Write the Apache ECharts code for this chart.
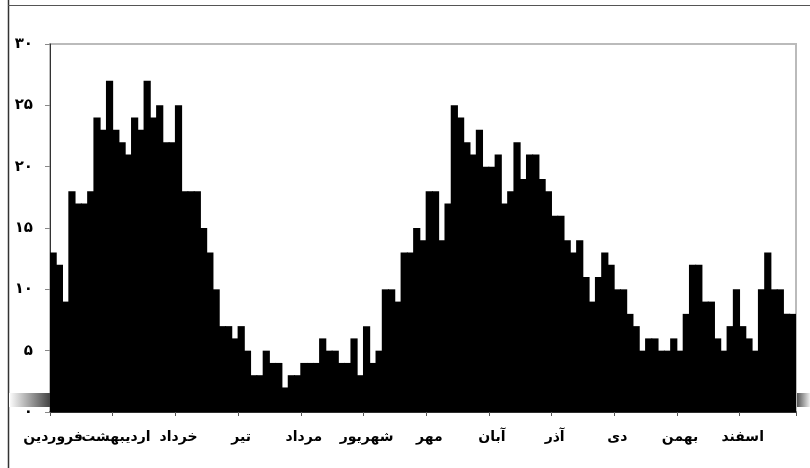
<!DOCTYPE html>
<html>
<head>
<meta charset="utf-8">
<script src="https://cdn.jsdelivr.net/npm/echarts@6/dist/echarts.min.js"></script>
<style>html,body{margin:0;padding:0;background:#fff}#c{width:810px;height:468px}</style>
</head>
<body>
<div id="c"></div>
<script>
// Month names (Persian calendar), one label every 10 bars
var months = ['فروردین','اردیبهشت','خرداد','تیر','مرداد','شهریور','مهر','آبان','آذر','دی','بهمن','اسفند'];
// Bar values
var values = [
  13,12,9,18,17,17,18,24,23,27,
  23,22,21,24,23,27,24,25,22,22,
  25,18,18,18,15,13,10,7,7,6,
  7,5,3,3,5,4,4,2,3,3,
  4,4,4,6,5,5,4,4,6,3,
  7,4,5,10,10,9,13,13,15,14,
  18,18,14,17,25,24,22,21,23,20,
  20,21,17,18,22,19,21,21,19,18,
  16,16,14,13,14,11,9,11,13,12,
  10,10,8,7,5,6,6,5,5,6,
  5,8,12,12,9,9,6,5,7,10,
  7,6,5,10,13,10,10,8,8
];
// Y tick labels in Persian digits
var yTickValues = [0,5,10,15,20,25,30];
var yTickLabels = ['۰','۵','۱۰','۱۵','۲۰','۲۵','۳۰'];

var categories = values.map(function(v,i){ return (i % 10 === 0) ? months[i/10] : ''; });

var chart = echarts.init(document.getElementById('c'), null, {renderer:'canvas'});
chart.setOption({
  animation: false,
  backgroundColor: '#fff',
  grid: {left: 50, right: 14, top: 44, bottom: 56, show: true, borderColor: '#bbb', borderWidth: 2},
  xAxis: {
    type: 'category',
    data: categories,
    boundaryGap: true,
    axisLine: {lineStyle: {color: '#000', width: 1.5}},
    axisTick: {show: true, interval: function(i){ return i % 10 === 0; }, length: 4, lineStyle: {color: '#555'}},
    axisLabel: {
      interval: 0, margin: 18, color: '#000',
      fontFamily: 'DejaVu Sans', fontWeight: 'bold', fontSize: 14
    }
  },
  yAxis: {
    type: 'value', min: 0, max: 30, interval: 5,
    splitLine: {show: false},
    axisLine: {show: true, lineStyle: {color: '#333', width: 1}},
    axisTick: {show: true, length: 5, lineStyle: {color: '#888'}},
    axisLabel: {
      margin: 17, color: '#000', fontFamily: 'DejaVu Sans', fontWeight: 'bold', fontSize: 15,
      formatter: function(v){ var k = yTickValues.indexOf(v); return k >= 0 ? yTickLabels[k] : ''; }
    }
  },
  series: [{
    type: 'bar',
    data: values,
    barWidth: 7.2,
    itemStyle: {color: '#000'}
  }],
  graphic: [
    {type: 'line', shape: {x1: 8.5, y1: 0, x2: 8.5, y2: 468}, style: {stroke: '#333', lineWidth: 1.5}},
    {type: 'line', shape: {x1: 8, y1: 5.5, x2: 810, y2: 5.5}, style: {stroke: '#555', lineWidth: 1}},
    {type: 'rect', shape: {x: 9, y: 393, width: 41, height: 14}, style: {fill: {type: 'linear', x: 0, y: 0, x2: 1, y2: 0, colorStops: [{offset: 0, color: '#ffffff'}, {offset: 1, color: '#444'}]}}},
    {type: 'rect', shape: {x: 797, y: 393, width: 13, height: 14}, style: {fill: {type: 'linear', x: 0, y: 0, x2: 1, y2: 0, colorStops: [{offset: 0, color: '#555'}, {offset: 1, color: '#eee'}]}}}
  ]
});
</script>
</body>
</html>
